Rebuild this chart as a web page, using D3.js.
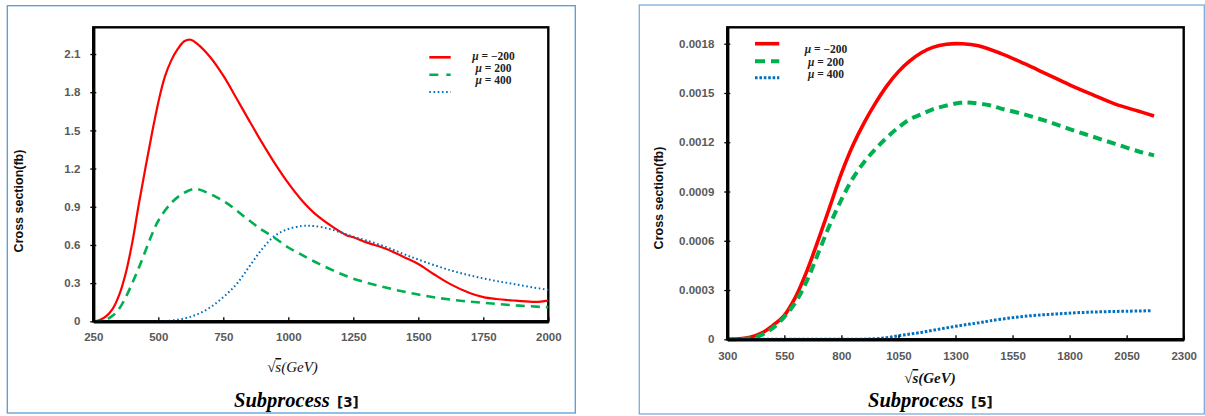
<!DOCTYPE html>
<html>
<head>
<meta charset="utf-8">
<script src="https://cdn.jsdelivr.net/npm/d3@7/dist/d3.min.js"></script>
<style>
  html, body { margin: 0; padding: 0; background: #ffffff; }
  svg { display: block; }
</style>
</head>
<body>
<svg id="chart" width="1205" height="416"></svg>
<script>
// ---------------- DATA ----------------
// Subprocess [3]
const sub3XTicks = [250, 500, 750, 1000, 1250, 1500, 1750, 2000];
const sub3YTicks = [0, 0.3, 0.6, 0.9, 1.2, 1.5, 1.8, 2.1];
const sub3YLabels = ["0", "0.3", "0.6", "0.9", "1.2", "1.5", "1.8", "2.1"];
const sub3MuMinus200 = [
  [250,0],[275,0.01],[300,0.04],[325,0.1],[350,0.21],[375,0.38],[400,0.62],[425,0.92],
  [450,1.2],[475,1.47],[500,1.72],[525,1.92],[550,2.05],[575,2.14],[600,2.2],[625,2.212],
  [650,2.18],[700,2.075],[750,1.93],[800,1.755],[850,1.575],[900,1.40],[950,1.235],[1000,1.085],
  [1050,0.955],[1100,0.85],[1172,0.74],[1224,0.677],[1250,0.66],[1300,0.62],[1375,0.57],
  [1450,0.5],[1500,0.45],[1560,0.37],[1625,0.29],[1700,0.22],[1750,0.19],[1800,0.175],
  [1875,0.162],[1950,0.152],[2000,0.162]
];
const sub3Mu200 = [
  [250,0],[290,0.005],[325,0.045],[350,0.1],[375,0.19],[400,0.3],[425,0.42],[450,0.55],
  [475,0.68],[500,0.79],[550,0.93],[600,1.01],[643,1.04],[700,1.0],[762,0.93],[826,0.83],
  [890,0.73],[941,0.665],[1000,0.58],[1045,0.53],[1100,0.47],[1172,0.40],[1250,0.335],
  [1375,0.265],[1500,0.21],[1625,0.17],[1750,0.145],[1875,0.125],[2000,0.11]
];
const sub3Mu400 = [
  [250,0],[500,0],[550,0.006],[600,0.022],[650,0.055],[700,0.11],[750,0.19],[800,0.29],
  [850,0.43],[900,0.57],[950,0.675],[1000,0.725],[1050,0.748],[1075,0.75],[1100,0.748],
  [1150,0.73],[1200,0.70],[1250,0.665],[1300,0.635],[1375,0.585],[1442,0.53],[1500,0.485],
  [1625,0.40],[1750,0.337],[1875,0.29],[2000,0.246]
];

// Subprocess [5]
const sub5XTicks = [300, 550, 800, 1050, 1300, 1550, 1800, 2050, 2300];
const sub5YTicks = [0, 0.0003, 0.0006, 0.0009, 0.0012, 0.0015, 0.0018];
const sub5YLabels = ["0", "0.0003", "0.0006", "0.0009", "0.0012", "0.0015", "0.0018"];
const sub5MuMinus200 = [
  [300,0],[350,0.000003],[400,0.000012],[450,0.000037],[500,0.000085],[550,0.000146],
  [600,0.00026],[650,0.00042],[700,0.00061],[750,0.00081],[800,0.00101],[850,0.00118],
  [900,0.00132],[950,0.00144],[1000,0.001545],[1050,0.00163],[1100,0.001695],[1150,0.001745],
  [1200,0.001778],[1260,0.001797],[1330,0.0018],[1400,0.001788],[1500,0.00174],[1600,0.00168],
  [1700,0.001615],[1800,0.00155],[1900,0.00149],[2000,0.001432],[2100,0.00139],[2170,0.00136]
];
const sub5Mu200 = [
  [300,0],[400,0.000006],[450,0.000026],[500,0.00007],[550,0.000136],[600,0.000228],
  [650,0.00036],[700,0.00053],[750,0.0007],[800,0.00085],[850,0.00098],[900,0.00108],
  [950,0.00116],[1000,0.00123],[1050,0.00129],[1100,0.00134],[1150,0.00137],[1200,0.0014],
  [1250,0.00142],[1320,0.00144],[1370,0.00144],[1450,0.001425],[1500,0.001405],[1600,0.00137],
  [1700,0.001328],[1800,0.00128],[1900,0.001235],[2000,0.00119],[2100,0.001145],[2170,0.00112]
];
const sub5Mu400 = [
  [300,0],[900,0.000001],[950,0.000003],[1000,0.00001],[1050,0.000022],[1100,0.000032],
  [1150,0.000042],[1200,0.000055],[1250,0.000067],[1300,0.000079],[1350,0.00009],
  [1400,0.0001],[1450,0.000112],[1550,0.000132],[1650,0.000146],[1750,0.000155],
  [1850,0.000163],[1950,0.000168],[2050,0.000171],[2160,0.000174]
];
const legendLabels = ["\u2212200", "200", "400"];

// ---------------- DRAWING ----------------
const svg = d3.select("#chart");
const RED = "#ff0000", GREEN = "#00b050", BLUE = "#0070c0";
const TICKFONT = "'Liberation Sans', Arial, sans-serif";

function drawPanel(cfg) {
  const g = svg.append("g");
  // outer frame
  g.append("rect")
    .attr("x", cfg.frame[0]).attr("y", cfg.frame[1])
    .attr("width", cfg.frame[2]).attr("height", cfg.frame[3])
    .attr("fill", "none").attr("stroke", cfg.frameColor).attr("stroke-width", 1.3);

  const x = d3.scaleLinear().domain(cfg.xDomain).range([cfg.x0, cfg.x1]);
  const y = d3.scaleLinear().domain(cfg.yDomain).range([cfg.y1, cfg.y0]);

  // plot border
  g.append("rect")
    .attr("x", cfg.x0).attr("y", cfg.y0)
    .attr("width", cfg.x1 - cfg.x0).attr("height", cfg.y1 - cfg.y0)
    .attr("fill", "none").attr("stroke", "#000").attr("stroke-width", 2.4);

  // series
  const line = d3.line().x(d => x(d[0])).y(d => Math.min(y(d[1]), cfg.y1))
    .curve(d3.curveCatmullRom.alpha(0.5));
  cfg.series.forEach(s => {
    g.append("path").datum(s.data)
      .attr("d", line)
      .attr("fill", "none")
      .attr("stroke", s.color)
      .attr("stroke-width", s.width)
      .attr("stroke-dasharray", s.dash || null)
      .attr("stroke-linecap", "butt")
      .attr("stroke-linejoin", "round");
  });

  // x axis
  const xa = g.append("g").attr("transform", `translate(0,${cfg.y1})`)
    .call(d3.axisBottom(x).tickValues(cfg.xTicks).tickSizeInner(-4).tickSizeOuter(0)
      .tickPadding(cfg.xPad).tickFormat(d3.format("d")));
  xa.select(".domain").attr("stroke", "#000").attr("stroke-width", 3.2);
  xa.selectAll(".tick line").attr("stroke", "#000").attr("stroke-width", 1.3);
  xa.selectAll(".tick text").attr("font-family", TICKFONT).attr("font-weight", "bold")
    .attr("font-size", 11.5).attr("fill", "#595959");

  // y axis
  const ya = g.append("g").attr("transform", `translate(${cfg.x0},0)`)
    .call(d3.axisLeft(y).tickValues(cfg.yTicks).tickSizeInner(3).tickSizeOuter(0)
      .tickPadding(cfg.yPad).tickFormat((d, i) => cfg.yLabels[i]));
  ya.select(".domain").attr("stroke", "#000").attr("stroke-width", 3.2);
  ya.selectAll(".tick line").attr("x1", 3).attr("x2", -3).attr("stroke", "#000").attr("stroke-width", 1.3);
  ya.selectAll(".tick text").attr("font-family", TICKFONT).attr("font-weight", "bold")
    .attr("font-size", 11.5).attr("fill", "#595959");

  // y title
  g.append("text")
    .attr("transform", `translate(${cfg.yTitle[0]},${cfg.yTitle[1]}) rotate(-90)`)
    .attr("text-anchor", "middle").attr("dominant-baseline", "central")
    .attr("font-family", TICKFONT).attr("font-weight", "bold").attr("font-size", 12.5)
    .attr("fill", "#111").text("Cross section(fb)");

  // x title
  const xt = g.append("text")
    .attr("x", cfg.xTitle[0]).attr("y", cfg.xTitle[1])
    .attr("text-anchor", "middle")
    .attr("font-family", "'Liberation Serif', 'DejaVu Serif', serif")
    .attr("font-style", "italic").attr("font-weight", cfg.xTitleBold ? "bold" : "normal")
    .attr("font-size", 15).attr("fill", "#111");
  xt.append("tspan").attr("font-style", "normal").text("\u221A");
  xt.append("tspan").attr("text-decoration", "overline").text("s");
  xt.append("tspan").text("(GeV)");

  // subtitle
  g.append("text")
    .attr("x", cfg.sub[0]).attr("y", cfg.sub[1])
    .attr("font-family", "'Liberation Serif', serif").attr("font-style", "italic")
    .attr("font-weight", "bold").attr("font-size", 20.5).attr("fill", "#000")
    .text("Subprocess");
  g.append("text")
    .attr("x", cfg.sub[2]).attr("y", cfg.sub[1])
    .attr("font-family", "'DejaVu Sans', sans-serif").attr("font-weight", "bold")
    .attr("font-size", 13.5).attr("fill", "#111").text(cfg.subTag);

  // legend
  cfg.series.forEach((s, i) => {
    g.append("line")
      .attr("x1", cfg.leg.x1).attr("x2", cfg.leg.x2)
      .attr("y1", cfg.leg.lineY[i]).attr("y2", cfg.leg.lineY[i])
      .attr("stroke", s.color).attr("stroke-width", s.legWidth || s.width)
      .attr("stroke-dasharray", s.legDash || s.dash || null);
    const t = g.append("text")
      .attr("x", cfg.leg.textX).attr("y", cfg.leg.textY[i])
      .attr("text-anchor", "middle")
      .attr("font-family", "'Liberation Serif', 'DejaVu Serif', serif")
      .attr("font-weight", "bold").attr("font-size", 11.5).attr("fill", "#222");
    t.append("tspan").attr("font-style", "italic").text("\u03BC");
    t.append("tspan").text(" = " + legendLabels[i]);
  });
}

drawPanel({
  frame: [7.3, 5.7, 568, 407.3], frameColor: "#5b9bd5",
  x0: 93.3, x1: 548.3, y0: 27.3, y1: 321.3,
  xDomain: [250, 2000], yDomain: [0, 2.31],
  xTicks: sub3XTicks, yTicks: sub3YTicks, yLabels: sub3YLabels,
  xPad: 12, yPad: 10,
  yTitle: [19, 201], xTitle: [292.5, 372], xTitleBold: false,
  sub: [234, 407, 337], subTag: "[3]",
  series: [
    { data: sub3MuMinus200, color: RED, width: 2.2, legWidth: 2.6 },
    { data: sub3Mu200, color: GREEN, width: 2.6, dash: "9,6", legDash: "9,8" },
    { data: sub3Mu400, color: BLUE, width: 2, dash: "1.6,2.6" }
  ],
  leg: { x1: 429.3, x2: 450.7, lineY: [57.3, 74.7, 92], textX: 493.5, textY: [59.7, 71.7, 83.7] }
});

drawPanel({
  frame: [639.3, 5, 565, 409], frameColor: "#7aaddc",
  x0: 727.3, x1: 1183.7, y0: 27.3, y1: 339.3,
  xDomain: [300, 2300], yDomain: [0, 0.0019],
  xTicks: sub5XTicks, yTicks: sub5YTicks, yLabels: sub5YLabels,
  xPad: 13, yPad: 10,
  yTitle: [659, 198], xTitle: [930, 383], xTitleBold: true,
  sub: [868, 407, 971], subTag: "[5]",
  series: [
    { data: sub5MuMinus200, color: RED, width: 3.6 },
    { data: sub5Mu200, color: GREEN, width: 4, dash: "9,5.5", legDash: "10,6" },
    { data: sub5Mu400, color: BLUE, width: 3, dash: "2.6,1.8" }
  ],
  leg: { x1: 755, x2: 779.3, lineY: [43.7, 61.3, 77.7], textX: 826, textY: [53.2, 65.7, 78] }
});
</script>
</body>
</html>
